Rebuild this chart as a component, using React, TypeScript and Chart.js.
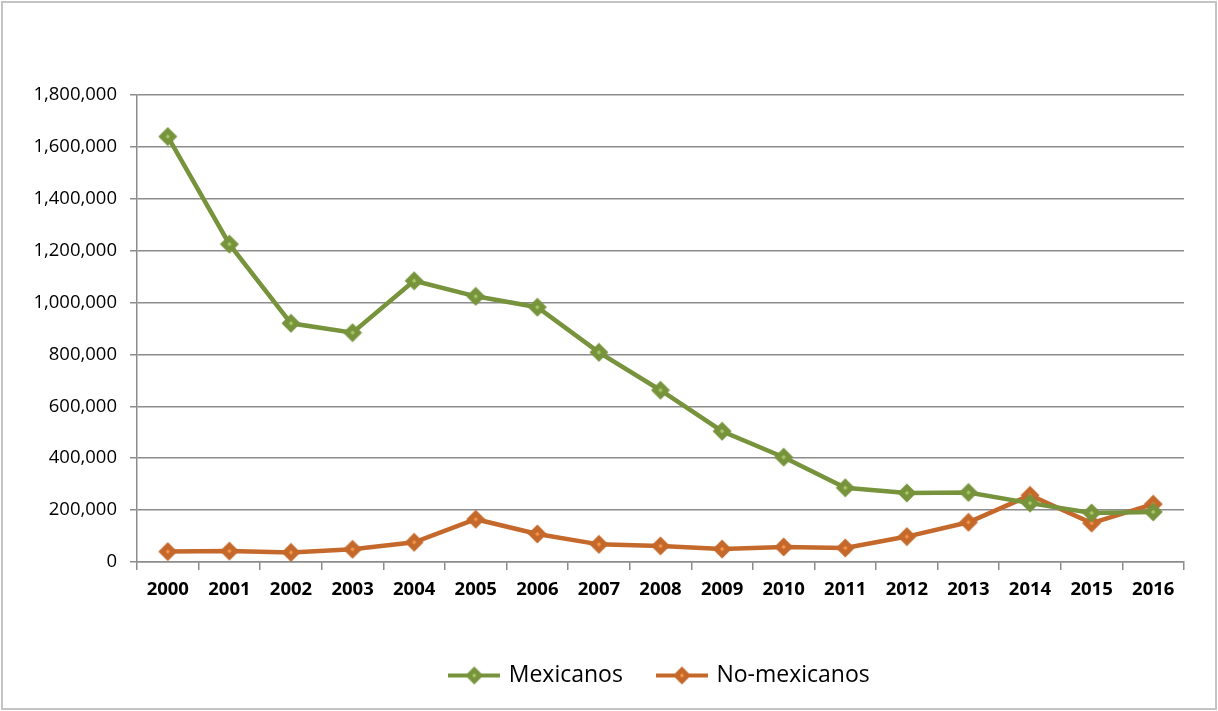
import React, { useEffect, useRef } from "react";
import { Chart, registerables } from "chart.js";

Chart.register(...registerables);

const years = [
  "2000", "2001", "2002", "2003", "2004", "2005", "2006", "2007", "2008",
  "2009", "2010", "2011", "2012", "2013", "2014", "2015", "2016",
];

const mexicanos = [
  1640000, 1225000, 920000, 884000, 1084000, 1024000, 982000, 808000, 662000,
  504000, 404000, 286000, 266000, 268000, 227000, 189000, 193000,
];

const noMexicanos = [
  40000, 42000, 37000, 49000, 76000, 165000, 108000, 68000, 62000,
  50000, 58000, 54000, 98000, 153000, 257000, 150000, 223000,
];

const yTicks = [0, 200000, 400000, 600000, 800000, 1000000, 1200000, 1400000, 1600000, 1800000];

const GREEN = "#77933C";
const GREEN_LIGHT = "#A9C866";
const ORANGE = "#C4692B";
const ORANGE_LIGHT = "#F79646";
const FONT = "'Open Sans', 'Liberation Sans', sans-serif";

// Diamond marker: solid body in the line colour with a small light centre
function drawDiamond(ctx: CanvasRenderingContext2D, cx: number, cy: number, r: number, line: string, fill: string) {
  ctx.fillStyle = line;
  ctx.beginPath();
  ctx.moveTo(cx, cy - r);
  ctx.lineTo(cx + r, cy);
  ctx.lineTo(cx, cy + r);
  ctx.lineTo(cx - r, cy);
  ctx.closePath();
  ctx.fill();
  ctx.fillStyle = fill;
  ctx.beginPath();
  ctx.moveTo(cx, cy - 2.2);
  ctx.lineTo(cx + 2.2, cy);
  ctx.lineTo(cx, cy + 2.2);
  ctx.lineTo(cx - 2.2, cy);
  ctx.closePath();
  ctx.fill();
}

function markerImage(line: string, fill: string): HTMLCanvasElement {
  const c = document.createElement("canvas");
  c.width = 20;
  c.height = 20;
  drawDiamond(c.getContext("2d")!, 10, 10, 9.5, line, fill);
  return c;
}

// Legend swatch: a short line with a diamond marker in the middle
function legendSwatch(line: string, fill: string): HTMLCanvasElement {
  const c = document.createElement("canvas");
  c.width = 52;
  c.height = 20;
  const ctx = c.getContext("2d")!;
  ctx.strokeStyle = line;
  ctx.lineWidth = 4;
  ctx.beginPath();
  ctx.moveTo(0, 10);
  ctx.lineTo(52, 10);
  ctx.stroke();
  drawDiamond(ctx, 26, 10, 9, line, fill);
  return c;
}

export default function App() {
  const ref = useRef<HTMLCanvasElement | null>(null);

  useEffect(() => {
    if (!ref.current) return;
    const swatches = [legendSwatch(GREEN, GREEN_LIGHT), legendSwatch(ORANGE, ORANGE_LIGHT)];
    const chart = new Chart(ref.current, {
      type: "line",
      data: {
        labels: years,
        datasets: [
          {
            label: "Mexicanos",
            data: mexicanos,
            borderColor: GREEN,
            backgroundColor: GREEN_LIGHT,
            borderWidth: 4.5,
            pointStyle: markerImage(GREEN, GREEN_LIGHT),
            pointRadius: 9,
            tension: 0,
          },
          {
            label: "No-mexicanos",
            data: noMexicanos,
            borderColor: ORANGE,
            backgroundColor: ORANGE_LIGHT,
            borderWidth: 4.5,
            pointStyle: markerImage(ORANGE, ORANGE_LIGHT),
            pointRadius: 9,
            tension: 0,
          },
        ],
      },
      options: {
        animation: false,
        responsive: false,
        maintainAspectRatio: false,
        layout: { padding: { left: 0, top: 95, right: 34, bottom: 14 } },
        plugins: {
          tooltip: { enabled: false },
          legend: {
            position: "bottom",
            fullSize: false,
            labels: {
              usePointStyle: true,
              pointStyleWidth: 46,
              padding: 36,
              color: "#000",
              font: { family: FONT, size: 23 },
              generateLabels: (ch) =>
                ch.data.datasets.map((ds, i) => ({
                  text: ds.label as string,
                  pointStyle: swatches[i],
                  fillStyle: "transparent",
                  strokeStyle: "transparent",
                  lineWidth: 0,
                  hidden: false,
                  datasetIndex: i,
                  fontColor: "#000",
                })),
            },
          },
        },
        scales: {
          x: {
            type: "category",
            offset: true,
            grid: {
              offset: true,
              drawOnChartArea: false,
              drawTicks: true,
              tickLength: 8,
              color: "#8c8c8c",
              lineWidth: 1.5,
            },
            border: { display: true, color: "#8c8c8c", width: 1.5 },
            ticks: {
              color: "#000",
              padding: 9,
              maxRotation: 0,
              autoSkip: false,
              font: { family: FONT, size: 18.5, weight: "bold" },
            },
            afterFit: (s: any) => {
              s.height = 66;
            },
          },
          y: {
            min: 0,
            max: 1800000,
            afterBuildTicks: (s: any) => {
              s.ticks = yTicks.map((v) => ({ value: v }));
            },
            grid: {
              color: "#8c8c8c",
              lineWidth: 1.5,
              drawTicks: true,
              tickLength: 7,
            },
            border: { display: true, color: "#8c8c8c", width: 1.5 },
            ticks: {
              color: "#000",
              padding: 13,
              font: { family: FONT, size: 18.5 },
              callback: (v: any) => Number(v).toLocaleString("en-US"),
            },
            afterFit: (s: any) => {
              s.width = 137;
            },
          },
        },
      },
    });
    return () => chart.destroy();
  }, []);

  return (
    <div style={{ position: "absolute", left: 0, top: 0, width: 1218, height: 711, background: "#fff" }}>
      <canvas ref={ref} width={1218} height={711} style={{ position: "absolute", left: 0, top: 0 }} />
      <div
        style={{
          position: "absolute",
          left: 1,
          top: 1,
          width: 1216,
          height: 709,
          boxSizing: "border-box",
          border: "2px solid #c4c4c4",
          pointerEvents: "none",
        }}
      />
    </div>
  );
}
